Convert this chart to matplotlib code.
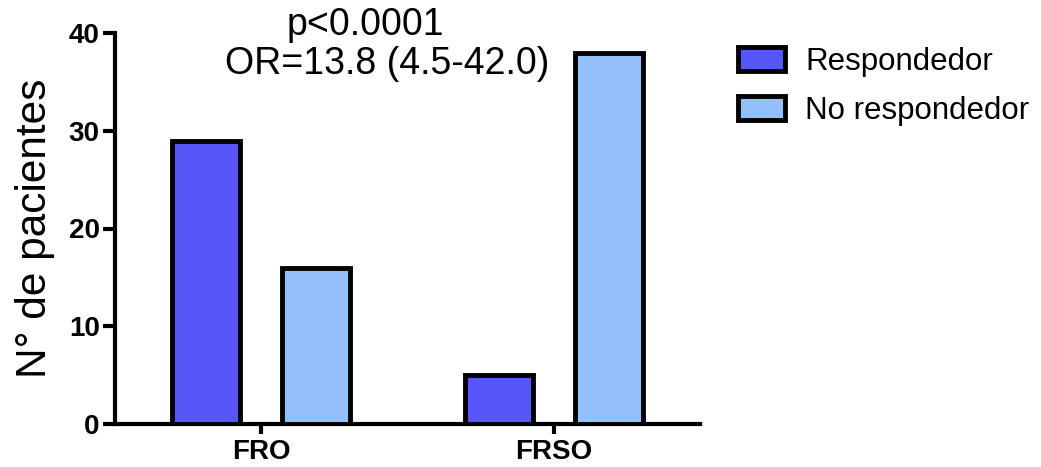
import matplotlib
matplotlib.use("Agg")
import matplotlib.pyplot as plt
import numpy as np

categories = ["FRO", "FRSO"]
series_names = ["Respondedor", "No respondedor"]
respondedor = [29, 5]
no_respondedor = [16, 38]
yticks = [0, 10, 20, 30, 40]
colors = ["#5757F9", "#93C0FA"]

plt.rcParams['font.family'] = ['Liberation Sans', 'DejaVu Sans']

fig = plt.figure(figsize=(10.41, 4.67), dpi=100)
ax = fig.add_axes([115/1041, 1-424/467, (700-115)/1041, (424-33)/467])

x = np.arange(len(categories))
w = 0.232
off = 0.188
for vals, sgn, c, name in zip([respondedor, no_respondedor], [-1, 1], colors, series_names):
    ax.bar(x + sgn*off, vals, width=w, color=c, edgecolor='black', linewidth=3.5,
           label=name, zorder=3)

ax.set_xlim(-0.5, 1.5)
ax.set_ylim(0, 40)
ax.set_yticks(yticks)
ax.set_xticks(x)
ax.set_xticklabels(categories)
for s in ['top', 'right']:
    ax.spines[s].set_visible(False)
for s in ['left', 'bottom']:
    ax.spines[s].set_linewidth(3)
ax.tick_params(axis='y', direction='out', length=9, width=3, pad=2, labelsize=20)
ax.tick_params(axis='x', direction='out', length=7, width=3, pad=4, labelsize=20)
for lab in ax.get_xticklabels() + ax.get_yticklabels():
    lab.set_fontweight('bold')
ax.set_ylabel("N° de pacientes", fontsize=30.5, labelpad=10)

fig.text(287/1041, 1-35/467, "p<0.0001", fontsize=27, ha='left', va='baseline')
fig.text(225/1041, 1-74/467, "OR=13.8 (4.5-42.0)", fontsize=27, ha='left', va='baseline')

leg = ax.legend(loc='upper left', bbox_to_anchor=(738/1041, 1-47/467),
                bbox_transform=fig.transFigure, frameon=False, fontsize=22.5,
                handlelength=1.5, handleheight=0.8, handletextpad=0.65,
                labelspacing=0.6, borderpad=0, borderaxespad=0)
for p in leg.get_patches():
    p.set_linewidth(3.5)

fig.savefig("out.png", dpi=100)
